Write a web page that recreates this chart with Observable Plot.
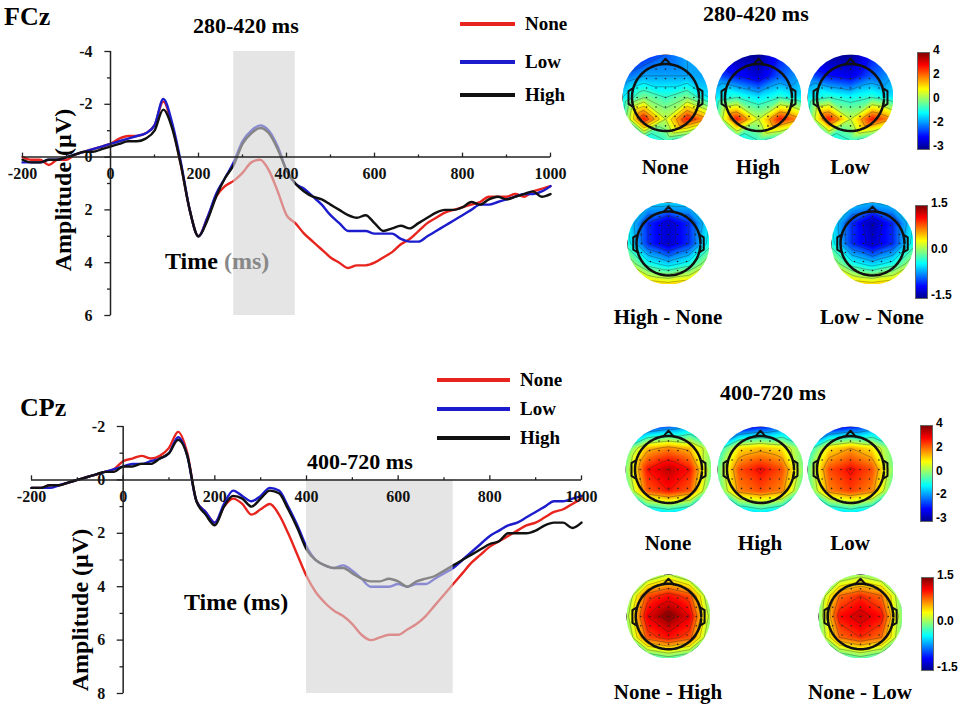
<!DOCTYPE html>
<html><head><meta charset="utf-8">
<script src="https://cdn.jsdelivr.net/npm/d3@7"></script>
<script src="https://cdn.jsdelivr.net/npm/@observablehq/plot@0.6"></script>
<style>
body{margin:0;background:#fff;width:962px;height:712px;position:relative;overflow:hidden;font-family:"Liberation Serif",serif;font-weight:bold}
.a{position:absolute;white-space:nowrap;line-height:1.15}
.lg{position:absolute;height:4px}
svg{overflow:visible}
</style></head><body>
<div id="root"></div>
<script>
const times = d3.range(-200, 1001, 20);
// FCz
const fczNone = [0,0.1,0.1,0.3,0.1,0.1,-0.1,-0.2,-0.3,-0.4,-0.5,-0.7,-0.8,-0.8,-0.9,-1.2,-2.1,-1.2,0.3,2.0,3.0,2.3,1.5,1.1,0.9,0.6,0.2,0.1,0.5,1.3,2.2,2.5,2.9,3.2,3.5,3.8,4.0,4.2,4.1,4.1,4.0,3.8,3.6,3.3,3.1,2.8,2.5,2.3,2.1,2.0,1.9,1.8,1.7,1.5,1.5,1.5,1.4,1.5,1.3,1.2,1.1];
const fczLow  = [0.2,0.2,0.2,0.1,0.1,0,-0.1,-0.2,-0.3,-0.4,-0.5,-0.6,-0.7,-0.8,-0.9,-1.2,-2.2,-1.3,0.2,2.0,3.0,2.3,1.4,0.8,0.2,-0.6,-1.0,-1.2,-1.0,-0.4,0.5,1.0,1.2,1.5,1.8,2.2,2.5,2.8,2.8,2.8,2.9,2.9,2.9,3.1,3.2,3.2,3.0,2.8,2.6,2.4,2.2,2.0,1.8,1.8,1.7,1.6,1.5,1.4,1.4,1.3,1.1];
const fczHigh = [0.1,0.2,0.2,0.1,0.1,0,-0.1,-0.2,-0.2,-0.3,-0.4,-0.5,-0.6,-0.6,-0.7,-1.0,-1.8,-1.1,0.3,2.0,3.0,2.4,1.5,0.8,0.3,-0.5,-0.9,-1.1,-0.9,-0.3,0.5,1.0,1.3,1.5,1.6,1.8,2.0,2.2,2.3,2.2,2.5,2.8,2.7,2.6,2.7,2.5,2.3,2.1,2.0,2.0,1.9,1.7,1.8,1.6,1.5,1.6,1.5,1.4,1.3,1.5,1.4];
// CPz
const cpzNone = [0.3,0.3,0.2,0.2,0.1,0,-0.1,-0.2,-0.3,-0.4,-0.7,-0.8,-0.9,-0.8,-0.9,-1.2,-1.8,-1.0,0.8,1.2,1.6,1.0,0.7,0.9,1.3,1.1,0.9,1.3,2.0,2.8,3.6,4.2,4.6,4.9,5.1,5.4,5.8,6.0,5.9,5.8,5.8,5.6,5.4,5.1,4.7,4.3,3.9,3.5,3.1,2.8,2.5,2.3,2.1,1.9,1.7,1.6,1.4,1.2,1.1,0.9,0.7];
const cpzLow  = [0.3,0.3,0.3,0.2,0.1,0,-0.1,-0.2,-0.3,-0.4,-0.5,-0.6,-0.6,-0.7,-0.8,-1.0,-1.6,-0.9,0.8,1.2,1.6,0.9,0.4,0.6,0.8,0.6,0.3,0.4,1.0,1.7,2.5,3.0,3.2,3.3,3.2,3.4,3.7,4.0,4.0,4.0,3.9,4.0,3.9,3.9,3.7,3.5,3.3,3.0,2.7,2.4,2.1,1.9,1.7,1.6,1.4,1.2,1.0,0.8,0.8,0.7,0.6];
const cpzHigh = [0.3,0.3,0.2,0.2,0.1,0,-0.1,-0.2,-0.3,-0.3,-0.5,-0.5,-0.6,-0.6,-0.8,-1.0,-1.5,-0.9,0.8,1.3,1.7,1.0,0.6,0.7,1.0,0.7,0.4,0.5,1.1,1.8,2.6,3.0,3.2,3.3,3.3,3.5,3.7,3.8,3.8,3.7,3.8,4.0,3.8,3.7,3.6,3.4,3.2,3.0,2.8,2.6,2.4,2.3,2.0,2.0,2.0,1.9,1.7,1.6,1.6,1.8,1.6];

const conditions = ["None","Low","High"];
const condColors = ["#e8241e","#1c1ccc","#111111"];

// topomap grids (5x5, rows front->back, cols left->right)
const topoTop = {
  None:[[-2.5,-2,-1.5,-1,1],[-1.5,-1,-1,-1,-1],[-0.5,0.5,0,0.5,-0.5],[0,3,1,3,2],[-1.5,-0.5,0,-0.5,-1.5]],
  High:[[-2,-3,-3,-2,0],[-1.5,-2,-2.5,-1.5,-1],[-0.5,0,-0.5,0,-0.5],[0,3,1,3,2],[-1.5,-0.5,0,-0.5,-1.5]],
  Low:[[-2,-3,-3,-2,0],[-1.5,-2,-2.3,-1.5,-1],[-0.5,0,-0.3,0,-0.5],[0,3,1,3,2],[-1.5,-0.5,0,-0.5,-1.5]]
};
const diffTop = {
  "High - None":[[-0.2,-0.5,-0.5,-0.5,-0.2],[-0.4,-1,-1.3,-1,-0.4],[-0.3,-1,-1.3,-1,-0.3],[0.2,-0.3,-0.5,-0.3,0.2],[0.8,0.6,0.5,0.6,0.8]],
  "Low - None":[[-0.2,-0.5,-0.6,-0.5,-0.2],[-0.4,-1,-1.4,-1,-0.4],[-0.3,-1,-1.3,-1,-0.3],[0.2,-0.3,-0.5,-0.3,0.2],[0.8,0.6,0.5,0.6,0.8]]
};
const topoBot = {
  None:[[-1.5,-2,-1.5,-1,-0.5],[0,1.8,2.2,1.8,0.5],[0.5,3,3.6,3,0.5],[0,2.5,3,2.5,0],[-2,-1,-0.5,-1,-2]],
  High:[[-1.5,-2.5,-2,-1.5,-0.5],[-0.5,1.5,1.8,1.5,0.3],[0.3,2.6,3.1,2.6,0.5],[0,2.2,2.6,2.2,0],[-2,-1,-0.5,-1,-2]],
  Low:[[-1.5,-2.5,-2,-1.5,-0.5],[-0.5,1.5,2,1.5,0.3],[0.3,2.6,3.1,2.6,0.5],[0,2.2,2.7,2.2,0],[-2,-1,-0.5,-1,-2]]
};
const diffBot = {
  "None - High":[[-0.7,-0.1,0.2,-0.1,-0.7],[-0.1,0.9,1.1,0.9,-0.1],[0.1,1.2,1.5,1.2,0.1],[-0.1,0.9,1.1,0.9,-0.1],[-0.8,-0.3,-0.1,-0.3,-0.8]],
  "None - Low":[[-0.7,-0.1,0.1,-0.1,-0.7],[-0.1,0.8,1.0,0.8,-0.1],[0,1.1,1.3,1.1,0],[-0.1,0.8,1.0,0.8,-0.1],[-0.8,-0.3,-0.1,-0.3,-0.8]]
};
const jet = ["#00008f","#0000ff","#0080ff","#00ffff","#80ff80","#ffff00","#ff8000","#ff0000","#800000"];

const root = document.getElementById("root");
function add(el,left,top){el.style.position="absolute";el.style.left=left+"px";el.style.top=top+"px";root.appendChild(el);return el;}
function txt(s,left,top,size,extra=""){const d=document.createElement("div");d.className="a";d.innerHTML=s;d.style.cssText+=`left:${left}px;top:${top}px;font-size:${size}px;${extra}`;root.appendChild(d);return d;}

function erp(series, o){
  const data = [];
  series.forEach((vals,i)=>vals.forEach((v,j)=>data.push({t:times[j],v,c:conditions[i]})));
  const xt = d3.range(-200,1001,100), yt = d3.range(o.ymin,o.ymax+0.01,1);
  const font = {fontFamily:"Liberation Serif",fontWeight:"bold",fontSize:16,fill:"#111"};
  return Plot.plot({
    width:o.width,height:o.height,marginTop:o.mt,marginBottom:o.mb,marginLeft:o.ml,marginRight:o.mr,
    x:{domain:[-200,1000],axis:null},
    y:{domain:[o.ymin,o.ymax],reverse:true,axis:null},
    color:{domain:conditions,range:condColors},
    marks:[
      Plot.line(data,{x:"t",y:"v",z:"c",stroke:"c",strokeWidth:2.4,curve:"monotone-x"}),
      Plot.rect([o.win],{x1:d=>d[0],x2:d=>d[1],y1:o.ymin+o.winTop,y2:o.ymax,fill:"#d4d4d4",fillOpacity:0.6}),
      Plot.ruleY([0],{stroke:"#222",strokeWidth:1.5}),
      Plot.ruleX([0],{y1:o.ymin,y2:o.ymax,stroke:"#222",strokeWidth:1.5}),
      Plot.link(xt,{x1:d=>d,x2:d=>d,y1:0,y2:d=>d%200===0?-0.17:-0.1,stroke:"#222",strokeWidth:1.3}),
      Plot.link(yt,{x1:0,x2:d=>d%2===0?-14:-8,y1:d=>d,y2:d=>d,stroke:"#222",strokeWidth:1.3}),
      Plot.text(xt.filter(d=>d%200===0),{x:d=>d,y:0,dy:17,text:d=>String(d),...font}),
      Plot.text(yt.filter(d=>d%2===0),{x:0,y:d=>d,dx:-18,textAnchor:"end",text:d=>String(d),...font})
    ]
  });
}

add(erp([fczNone,fczLow,fczHigh],{width:562,height:300,mt:21,mb:15,ml:22,mr:12,ymin:-4,ymax:6,win:[280,420],winTop:0}),0,30);
add(erp([cpzNone,cpzLow,cpzHigh],{width:590,height:290,mt:16,mb:7,ml:31,mr:9,ymin:-2,ymax:8,win:[400,720],winTop:2}),0,410);

// texts left
txt("FCz",4,2,26);
txt("280-420 ms",193,13,22);
txt('Time <span style="color:#888">(ms)</span>',165,248,24);
txt("Amplitude (µV)",64,190,24,"transform:translate(-50%,-50%) rotate(-90deg)");
txt("CPz",20,393,26);
txt("400-720 ms",307,449,22);
txt("Time (ms)",184,589,24);
txt("Amplitude (µV)",81,610,24,"transform:translate(-50%,-50%) rotate(-90deg)");
// legends
function legend(x1,x2,ys,tx){conditions.forEach((c,i)=>{const d=document.createElement("div");d.className="lg";d.style.cssText+=`left:${x1}px;width:${x2-x1}px;top:${ys[i]-2}px;background:${condColors[i]}`;root.appendChild(d);txt(c,tx,ys[i]-11,19);});}
legend(460,515,[24,62,95],525);
legend(437,510,[380,409,438],520);

// topomaps
function topo(grid,domain,size){
  const pts=[];const n=grid.length;
  grid.forEach((row,i)=>row.forEach((v,j)=>pts.push({x:-1+2*j/(n-1),y:1-2*i/(n-1),v})));
  const range = jet;
  const dom = d3.range(range.length).map(k=>domain[0]+(domain[1]-domain[0])*k/(range.length-1));
  const elec=[];for(let i=-3;i<=3;i++)for(let j=-3;j<=3;j++){if(i*i+j*j<=10)elec.push({x:j*0.22,y:i*0.22});}
  const th=d3.range(0,2*Math.PI+0.01,0.1);
  const svg = Plot.plot({width:size,height:size,margin:0,x:{domain:[-1,1],axis:null},y:{domain:[-1,1],axis:null},
    color:{type:"linear",domain:dom,range,clamp:true},
    marks:[
      Plot.raster(pts,{x:"x",y:"y",fill:"v",interpolate:"barycentric",pixelSize:1}),
      Plot.contour(pts,{x:"x",y:"y",fill:null,value:"v",interpolate:"barycentric",stroke:"#222",strokeWidth:0.5,strokeOpacity:0.7,thresholds:8}),
      Plot.dot(elec,{x:"x",y:"y",r:0.8,fill:"#222"}),
      Plot.line(th,{x:t=>0.78*Math.cos(t),y:t=>0.78*Math.sin(t),stroke:"#111",strokeWidth:2.5}),
      Plot.line([[-0.12,0.77],[0,0.9],[0.12,0.77]],{x:d=>d[0],y:d=>d[1],stroke:"#111",strokeWidth:2}),
      Plot.line([[-0.78,0.2],[-0.86,0.15],[-0.86,-0.15],[-0.78,-0.2]],{x:d=>d[0],y:d=>d[1],stroke:"#111",strokeWidth:2}),
      Plot.line([[0.78,0.2],[0.86,0.15],[0.86,-0.15],[0.78,-0.2]],{x:d=>d[0],y:d=>d[1],stroke:"#111",strokeWidth:2})
    ]});
  svg.style.overflow="hidden";
  const id="c"+Math.random().toString(36).slice(2);
  const ns="http://www.w3.org/2000/svg";
  const defs=document.createElementNS(ns,"defs"),cp=document.createElementNS(ns,"clipPath"),ci=document.createElementNS(ns,"circle");
  cp.setAttribute("id",id);ci.setAttribute("cx",size/2);ci.setAttribute("cy",size/2);ci.setAttribute("r",size/2);
  cp.appendChild(ci);defs.appendChild(cp);svg.insertBefore(defs,svg.firstChild);
  svg.querySelectorAll('[aria-label="raster"],[aria-label="contour"]').forEach(g=>g.setAttribute("clip-path",`url(#${id})`));
  return svg;
}
function colorbar(left,top,h,labels){
  const d=document.createElement("div");
  d.style.cssText=`position:absolute;left:${left}px;top:${top}px;width:11px;height:${h}px;border:1px solid #666;background:linear-gradient(to top,${jet.join(",")})`;
  root.appendChild(d);
  labels.forEach((l,i)=>txt(l,left+16,top+h*i/(labels.length-1)-8,12,"font-family:'Liberation Sans',sans-serif"));
}
txt("280-420 ms",703,1,22);
[["None",665],["High",758],["Low",850]].forEach(([k,cx])=>{add(topo(topoTop[k],[-3,4],86),cx-43,54);txt(k,cx,155,21,"transform:translateX(-50%)");});
colorbar(917,52,96,["4","2","0","-2","-3"]);
[["High - None",668],["Low - None",872]].forEach(([k,cx])=>{add(topo(diffTop[k],[-1.5,1.5],82),cx-41,202);txt(k,cx,305,21,"transform:translateX(-50%)");});
colorbar(915,205,92,["1.5","0.0","-1.5"]);
txt("400-720 ms",720,380,22);
[["None",668],["High",760],["Low",850]].forEach(([k,cx])=>{add(topo(topoBot[k],[-3,4],86),cx-43,426);txt(k,cx,531,21,"transform:translateX(-50%)");});
colorbar(920,425,95,["4","2","0","-2","-3"]);
[["None - High",668],["None - Low",860]].forEach(([k,cx])=>{add(topo(diffBot[k],[-1.5,1.5],84),cx-42,574);txt(k,cx,680,21,"transform:translateX(-50%)");});
colorbar(921,577,92,["1.5","0.0","-1.5"]);
</script></body></html>
